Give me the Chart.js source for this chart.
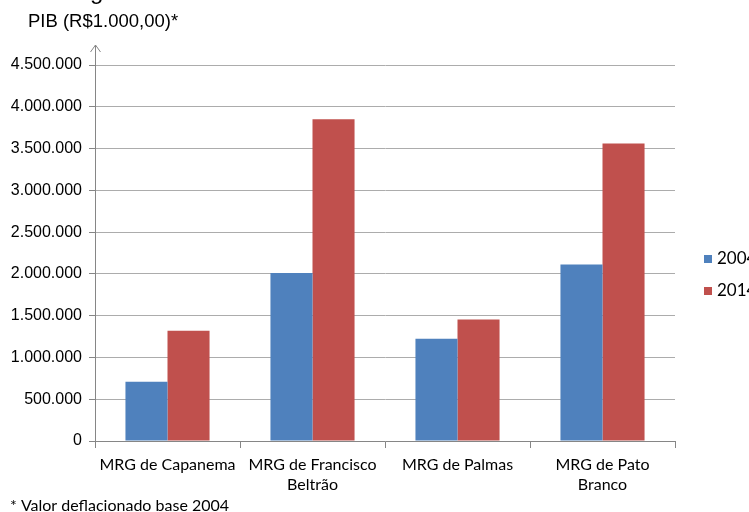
<!DOCTYPE html>
<html>
<head>
<meta charset="utf-8">
<script src="https://cdn.jsdelivr.net/npm/chart.js@4/dist/chart.umd.min.js"></script>
<style>
html,body{margin:0;padding:0;background:#fff;overflow:hidden;}
canvas{display:block;}
</style>
</head>
<body>
<canvas id="c" width="749" height="512"></canvas>
<script>
const categories = [["MRG de Capanema"], ["MRG de Francisco", "Beltrão"], ["MRG de Palmas"], ["MRG de Pato", "Branco"]];
const seriesLabels = ["2004", "2014"];
const values2004 = [708000, 2010000, 1224000, 2112000];
const values2014 = [1320000, 3850000, 1455000, 3560000];
const yTicks = [0, 500000, 1000000, 1500000, 2000000, 2500000, 3000000, 3500000, 4000000, 4500000];
const axisTitle = "PIB (R$1.000,00)*";
const footnote = "* Valor deflacionado base 2004";
const topFragment = "g";

const colors = ["#4F81BD", "#C0504D"];

function fmt(v) {
  return String(v).replace(/\B(?=(\d{3})+(?!\d))/g, ".");
}

const decor = {
  id: "decor",
  afterDraw(chart) {
    const ctx = chart.ctx;
    const a = chart.chartArea;
    ctx.save();
    ctx.strokeStyle = "#868686";
    ctx.lineWidth = 1;
    const x = Math.round(a.left) + 0.5;
    ctx.beginPath();
    ctx.moveTo(x, a.top);
    ctx.lineTo(x, a.top - 20);
    ctx.stroke();
    ctx.beginPath();
    ctx.moveTo(x - 5, a.top - 13);
    ctx.lineTo(x, a.top - 20);
    ctx.lineTo(x + 5, a.top - 13);
    ctx.stroke();
    ctx.fillStyle = "#000";
    ctx.textBaseline = "middle";
    ctx.textAlign = "left";
    ctx.font = "18.5px 'Liberation Sans', Arial, sans-serif";
    ctx.fillText(axisTitle, 28, 22);
    ctx.font = "24px 'Liberation Sans', Arial, sans-serif";
    ctx.textBaseline = "alphabetic";
    ctx.fillText(topFragment, 90, -1);
    ctx.font = "16px Lato, 'Open Sans', sans-serif";
    ctx.textBaseline = "middle";
    ctx.fillText(footnote, 10, 506);
    ctx.font = "17px Lato, 'Open Sans', sans-serif";
    chart.data.datasets.forEach((ds, i) => {
      const ly = 259 + i * 32;
      ctx.fillStyle = ds.backgroundColor;
      ctx.fillRect(704, ly - 4, 8, 8);
      ctx.fillStyle = "#000";
      ctx.fillText(ds.label, 717, ly);
    });
    ctx.restore();
  }
};

new Chart(document.getElementById("c"), {
  type: "bar",
  data: {
    labels: categories,
    datasets: [
      { label: seriesLabels[0], data: values2004, backgroundColor: colors[0] },
      { label: seriesLabels[1], data: values2014, backgroundColor: colors[1] }
    ]
  },
  options: {
    responsive: false,
    animation: false,
    devicePixelRatio: 1,
    categoryPercentage: 0.58,
    barPercentage: 1.0,
    layout: { padding: { left: 0, top: 65, right: 74, bottom: 0 } },
    plugins: {
      legend: { display: false },
      tooltip: { enabled: false },
      title: { display: false }
    },
    scales: {
      x: {
        afterFit(s) { s.height = 71; },
        grid: {
          offset: true,
          drawOnChartArea: false,
          tickLength: 7,
          tickColor: "#868686"
        },
        border: { color: "#868686" },
        ticks: {
          color: "#000",
          padding: 6,
          maxRotation: 0,
          autoSkip: false,
          font: { family: "Lato, 'Open Sans', sans-serif", size: 16, lineHeight: 1.3 }
        }
      },
      y: {
        min: 0,
        max: 4500000,
        afterFit(s) { s.width = 95; },
        afterBuildTicks(s) { s.ticks = yTicks.map(v => ({ value: v })); },
        grid: {
          color: "#ACACAC",
          tickLength: 6,
          tickColor: "#868686"
        },
        border: { color: "#868686" },
        ticks: {
          color: "#000",
          padding: 7,
          font: { family: "'Liberation Sans', Arial, sans-serif", size: 16 },
          callback: v => fmt(v)
        }
      }
    }
  },
  plugins: [decor]
});
</script>
</body>
</html>
